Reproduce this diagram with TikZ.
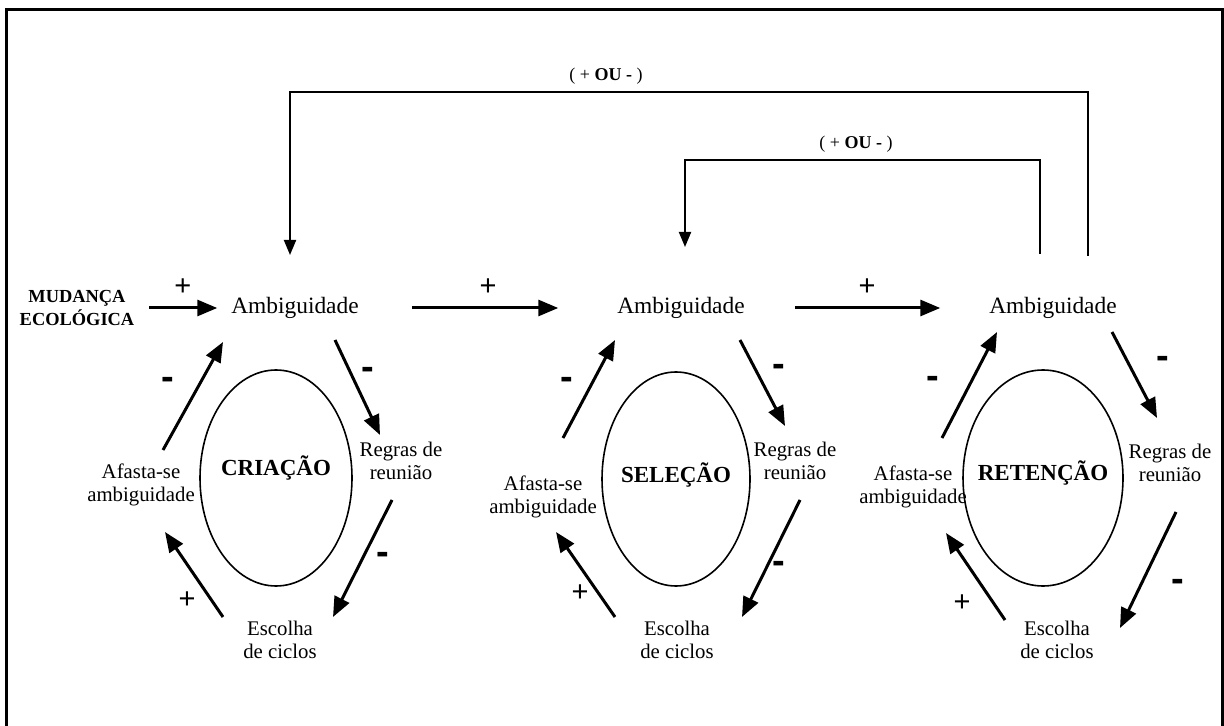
\documentclass[tikz,border=0pt]{standalone}
\usepackage{fontspec}
\setmainfont{Liberation Serif}
\newfontfamily\signfont{Liberation Sans}
\usetikzlibrary{arrows.meta}

\begin{document}
\begin{tikzpicture}[x=0.5pt,y=-0.5pt,
    amb/.style={font=\fontsize{11.7}{14}\selectfont},
    lbl/.style={font=\fontsize{10.4}{11.8}\selectfont,align=center},
    phase/.style={font=\fontsize{11.5}{14}\selectfont\bfseries},
    plussign/.style={font=\fontsize{14.5}{14}\signfont},
    minussign/.style={font=\fontsize{19}{14}\signfont\bfseries},
    ouor/.style={font=\fontsize{9}{11}\selectfont},
    cyc/.style={line width=1.5pt,-{Triangle[length=10pt,width=8pt]}},
    fb/.style={line width=1pt,-{Triangle[length=7.5pt,width=6pt]}},
    ring/.style={line width=0.8pt}]
  \useasboundingbox (0,0) rectangle (1224,726);
  % frame, open at the bottom
  \draw[line width=1.5pt] (6,726) -- (6,10) -- (1222,10) -- (1222,726);

  % main chain
  \node[font=\fontsize{9.2}{12}\selectfont\bfseries,align=center] (eco) at (77,308) {MUDANÇA\\ECOLÓGICA};
  \node[amb] (amb1) at (295,308) {Ambiguidade};
  \node[amb] (amb2) at (681,308) {Ambiguidade};
  \node[amb] (amb3) at (1053,308) {Ambiguidade};
  \draw[cyc,shorten <=4pt,shorten >=3.5pt] (eco) -- node[plussign,above=2pt]{+} (amb1);
  \draw[cyc,shorten <=23pt,shorten >=26pt] (amb1) -- node[plussign,above=2pt]{+} (amb2);
  \draw[cyc,shorten <=21.5pt,shorten >=21pt] (amb2) -- node[plussign,above=2pt]{+} (amb3);

  % feedback loops
  \node[ouor] (ou1) at (606,76) {( + \textbf{OU -} )};
  \node[ouor] (ou2) at (856,144) {( + \textbf{OU -} )};
  \coordinate (o1) at (1088,256);
  \coordinate (o2) at (290,255);
  \coordinate (i1) at (1040,254);
  \coordinate (i2) at (685,247);
  \draw[fb] (o1) -- ++(0,-164) -| (o2);
  \draw[fb] (i1) -- ++(0,-94) -| (i2);

  % CRIACAO
  \draw[ring] (276,478) ellipse [x radius=76, y radius=108];
  \node[phase] (ph1) at (276,468) {CRIAÇÃO};
  \node[lbl] (reg1) at (401,461) {Regras de\\reunião};
  \node[lbl] (esc1) at (280,640) {Escolha\\de ciclos};
  \node[lbl] (afa1) at (141,485) {Afasta-se\\ambiguidade};
  \coordinate (a1s) at (335,340); \coordinate (a1e) at (380,435);
  \coordinate (b1s) at (392,500); \coordinate (b1e) at (333,617);
  \coordinate (c1s) at (223,617); \coordinate (c1e) at (165,532);
  \coordinate (d1s) at (163,450); \coordinate (d1e) at (223,342);
  \draw[cyc] (a1s) -- (a1e);
  \draw[cyc] (b1s) -- (b1e);
  \draw[cyc] (c1s) -- (c1e);
  \draw[cyc] (d1s) -- (d1e);
  \node[minussign] at (368,373) {-};
  \node[minussign] at (383,558) {-};
  \node[plussign] at (187,600) {+};
  \node[minussign] at (168,383) {-};

  % SELECAO
  \draw[ring] (676,479) ellipse [x radius=74, y radius=107];
  \node[phase] (ph2) at (676,475) {SELEÇÃO};
  \node[lbl] (reg2) at (795,461) {Regras de\\reunião};
  \node[lbl] (esc2) at (677,640) {Escolha\\de ciclos};
  \node[lbl] (afa2) at (543,497) {Afasta-se\\ambiguidade};
  \coordinate (a2s) at (740,340); \coordinate (a2e) at (785,426);
  \coordinate (b2s) at (800,500); \coordinate (b2e) at (742,617);
  \coordinate (c2s) at (615,617); \coordinate (c2e) at (556,532);
  \coordinate (d2s) at (563,438); \coordinate (d2e) at (615,340);
  \draw[cyc] (a2s) -- (a2e);
  \draw[cyc] (b2s) -- (b2e);
  \draw[cyc] (c2s) -- (c2e);
  \draw[cyc] (d2s) -- (d2e);
  \node[minussign] at (779,370) {-};
  \node[minussign] at (779,567) {-};
  \node[plussign] at (580,593) {+};
  \node[minussign] at (567,383) {-};

  % RETENCAO
  \draw[ring] (1043,478) ellipse [x radius=80, y radius=108];
  \node[phase] (ph3) at (1043,473) {RETENÇÃO};
  \node[lbl] (reg3) at (1170,463) {Regras de\\reunião};
  \node[lbl] (esc3) at (1057,640) {Escolha\\de ciclos};
  \node[lbl] (afa3) at (913,487) {Afasta-se\\ambiguidade};
  \coordinate (a3s) at (1112,332); \coordinate (a3e) at (1157,418);
  \coordinate (b3s) at (1176,512); \coordinate (b3e) at (1120,628);
  \coordinate (c3s) at (1005,620); \coordinate (c3e) at (946,533);
  \coordinate (d3s) at (942,438); \coordinate (d3e) at (997,332);
  \draw[cyc] (a3s) -- (a3e);
  \draw[cyc] (b3s) -- (b3e);
  \draw[cyc] (c3s) -- (c3e);
  \draw[cyc] (d3s) -- (d3e);
  \node[minussign] at (1163,362) {-};
  \node[minussign] at (1178,585) {-};
  \node[plussign] at (962,603) {+};
  \node[minussign] at (933,382) {-};
\end{tikzpicture}
\end{document}
